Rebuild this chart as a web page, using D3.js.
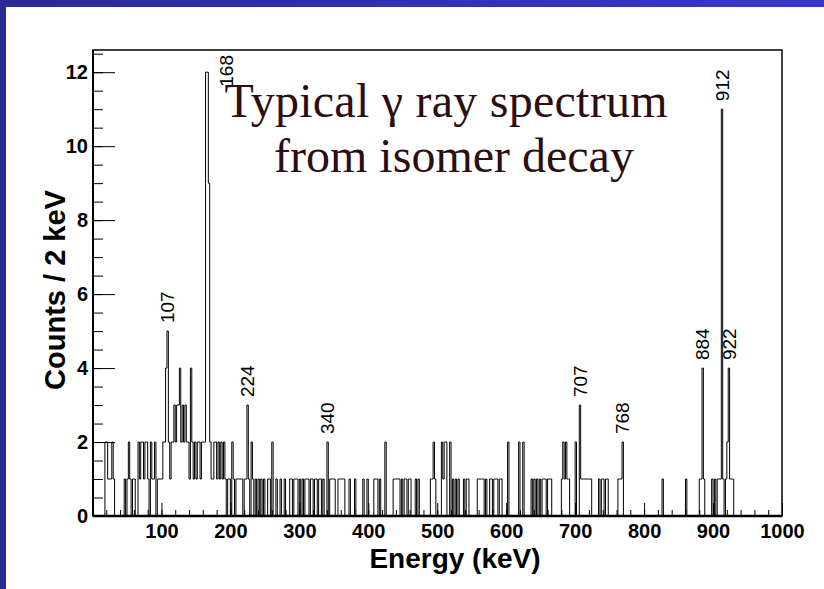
<!DOCTYPE html>
<html>
<head>
<meta charset="utf-8">
<script src="https://cdn.jsdelivr.net/npm/d3@7"></script>
<style>
  html, body { margin: 0; padding: 0; background: #fff; }
  svg { display: block; }
</style>
</head>
<body>
<svg id="chart" width="824" height="589"></svg>
<script>
// ---- spectrum data: [bin lower edge (keV), counts], 2 keV bins ----
const binWidth = 2;
const binsLow = [
  [18,2],[20,2],[22,1],[24,1],[26,1],[28,2],[30,1],
  [46,1],[50,1],[52,2],[54,1],[58,1],[60,1],
  [66,2],[68,1],[70,2],[72,2],[74,1],[76,2],[78,2],
  [80,1],[84,2],[86,1],[88,1],[90,2],[94,1],
  [96,1],[98,1],[100,1],[102,2],[104,2],[106,4],[108,5],
  [110,2],[112,1],[114,2],[116,2],[118,3],[120,2],[122,3],[124,3],[126,4],[128,2],
  [130,3],[132,2],[134,3],[136,2],[138,2],[140,1],[142,4],[144,2],[146,1],[148,2],
  [150,1],[152,2],[154,2],[156,1],[158,2],[160,2],[162,2],
  [164,12],[166,12],[168,9],
  [170,2],[172,1],[174,1],[176,2],[178,2],[180,1],[182,2],[184,1],[186,2],[188,1],
  [190,2],[192,1],[196,1],[198,1],[202,2],[204,1],[208,1],[210,1],[212,1],[214,1],
  [216,1],[220,1],[222,1],[224,3],[226,1],[230,2],[232,1],[236,1]
];
const binsMid = [
  [240,1],[244,1],[248,1],[254,1],[256,1],[260,2],[266,1],[272,1],[278,1],[286,1],[288,1],
  [292,1],[294,1],[296,1],[300,1],[304,1],[308,1],[310,1],[312,1],[316,1],[318,1],
  [322,1],[324,1],[328,1],[330,1],[334,1],[340,2],
  [344,1],[346,1],[348,1],[350,1],[356,1],[358,1],[360,1],[362,1],[364,1],[372,1],[380,1],
  [392,1],[398,1],[408,1],[410,1],[412,1],[416,1],[424,2],
  [436,1],[438,1],[440,1],[442,1],[444,1],[448,1],[452,1],[454,1],[458,1],[460,1],
  [468,1],[472,1],[490,1],[492,1],[494,2],[496,1],
  [506,2],[508,1],[510,2],[512,2],[518,2],[522,1],[526,1],[530,1],
  [538,1],[542,1],[544,1],[558,1],[560,1],[562,1],[564,1],[566,1],[570,1],
  [576,1],[578,1],[582,1],[584,1],[586,1],[590,1],[592,1],
  [602,2],[618,2],[624,2],
  [636,1],[640,1],[644,1],[648,1],[652,1],[654,1],[656,1],[660,1],[662,1],[664,1],
  [680,1],[682,2],[684,1],[686,2],[688,1],[690,1],[700,2],[706,3],
  [708,1],[710,1],[712,1],[714,1],[716,1],[718,1],[720,1],[722,1],
  [734,1],[738,1],[740,1],[744,1],[746,1],
  [762,1],[764,1],[766,1],[768,2]
];
const binsHigh = [
  [826,1],[860,1],[880,1],[882,1],[884,4],[886,1],
  [898,1],[902,1],[906,1],[908,1],[910,1],[912,11],[914,1],
  [918,1],[920,2],[922,4],[924,1],[926,1],[928,1]
];

// labelled gamma lines: label text and the bin that carries it
const peakLabels = ["107","168","224","340","707","768","884","912","922"];
const peakBins   = [108, 166, 224, 340, 706, 768, 884, 912, 922];

const xTickValues = [100,200,300,400,500,600,700,800,900,1000];
const yTickValues = [0,2,4,6,8,10,12];
const titleLines = ["Typical \u03b3 ray spectrum", "from isomer decay"];
const xTitle = "Energy (keV)";
const yTitle = "Counts / 2 keV";

// ---- layout ----
const W = 824, H = 589;
const frame = { left: 93, right: 782, top: 50, bottom: 516 };
const svg = d3.select("#chart");

const x = d3.scaleLinear().domain([0, 1000]).range([92.5, 782]);
const y = d3.scaleLinear().domain([0, 12.6]).range([frame.bottom, frame.top]);

// slide border (blue gradient bars along top and left)
const defs = svg.append("defs");
const grad = defs.append("linearGradient").attr("id", "slideBlue")
  .attr("x1", "0%").attr("y1", "0%").attr("x2", "100%").attr("y2", "0%");
grad.append("stop").attr("offset", "0%").attr("stop-color", "#2b2a92");
grad.append("stop").attr("offset", "100%").attr("stop-color", "#3737cf");
svg.append("rect").attr("x", 0).attr("y", 0).attr("width", W).attr("height", H).attr("fill", "#fff");
svg.append("rect").attr("x", 0).attr("y", 0).attr("width", W).attr("height", 7).attr("fill", "url(#slideBlue)");
svg.append("rect").attr("x", 0).attr("y", 0).attr("width", 6).attr("height", H).attr("fill", "#2c2b96");

// ---- histogram as a step outline ----
const countByBin = new Map([...binsLow, ...binsMid, ...binsHigh]);
const steps = [];
for (let e = 0; e < 1000; e += binWidth) {
  const c = countByBin.get(e) || 0;
  steps.push([e, c], [e + binWidth, c]);
}
svg.append("path")
  .datum(steps)
  .attr("fill", "none")
  .attr("stroke", "#000")
  .attr("stroke-width", 1)
  .attr("d", d3.line().x(d => x(d[0])).y(d => y(d[1])));

// ---- frame ----
svg.append("rect")
  .attr("x", frame.left).attr("y", frame.top)
  .attr("width", frame.right - frame.left).attr("height", frame.bottom - frame.top)
  .attr("fill", "none").attr("stroke", "#000").attr("stroke-width", 1.5);

// ---- axes (ticks pointing into the frame) ----
const tickFont = "'Liberation Sans', Arial, sans-serif";

const xAxisMinor = d3.axisTop(x).tickValues(d3.range(0, 1001, 20)).tickSize(6).tickFormat("");
svg.append("g").attr("transform", `translate(0,${frame.bottom})`).call(xAxisMinor)
  .call(g => g.select(".domain").remove())
  .call(g => g.selectAll("line").attr("stroke", "#000"));
const xAxisMajor = d3.axisTop(x).tickValues(xTickValues).tickSize(13).tickFormat("");
svg.append("g").attr("transform", `translate(0,${frame.bottom})`).call(xAxisMajor)
  .call(g => g.select(".domain").remove())
  .call(g => g.selectAll("line").attr("stroke", "#000"));
const xAxisLabels = d3.axisBottom(x).tickValues(xTickValues).tickSize(0).tickPadding(8)
  .tickFormat(d3.format("d"));
svg.append("g").attr("transform", `translate(0,${frame.bottom})`).call(xAxisLabels)
  .call(g => g.select(".domain").remove())
  .call(g => g.selectAll("text")
    .attr("font-family", tickFont).attr("font-weight", "bold").attr("font-size", 20).attr("fill", "#000"));

const yAxisMinor = d3.axisRight(y).tickValues(d3.range(0, 12.6, 0.5)).tickSize(10).tickFormat("");
svg.append("g").attr("transform", `translate(${frame.left},0)`).call(yAxisMinor)
  .call(g => g.select(".domain").remove())
  .call(g => g.selectAll("line").attr("stroke", "#000"));
const yAxisMajor = d3.axisRight(y).tickValues(yTickValues).tickSize(22).tickFormat("");
svg.append("g").attr("transform", `translate(${frame.left},0)`).call(yAxisMajor)
  .call(g => g.select(".domain").remove())
  .call(g => g.selectAll("line").attr("stroke", "#000"));
const yAxisLabels = d3.axisLeft(y).tickValues(yTickValues).tickSize(0).tickPadding(5)
  .tickFormat(d3.format("d"));
svg.append("g").attr("transform", `translate(${frame.left},0)`).call(yAxisLabels)
  .call(g => g.select(".domain").remove())
  .call(g => g.selectAll("text")
    .attr("font-family", tickFont).attr("font-weight", "bold").attr("font-size", 20).attr("fill", "#000"));

// axis lines drawn heavier than the frame
svg.append("line").attr("x1", frame.left).attr("x2", frame.right)
  .attr("y1", frame.bottom).attr("y2", frame.bottom).attr("stroke", "#000").attr("stroke-width", 2.5);
svg.append("line").attr("x1", frame.left).attr("x2", frame.left)
  .attr("y1", frame.top).attr("y2", frame.bottom).attr("stroke", "#000").attr("stroke-width", 2);

// axis titles
svg.append("text")
  .attr("x", 455).attr("y", 568)
  .attr("text-anchor", "middle")
  .attr("font-family", tickFont).attr("font-weight", "bold").attr("font-size", 28)
  .text(xTitle);
svg.append("text")
  .attr("transform", "translate(65,290) rotate(-90)")
  .attr("text-anchor", "middle")
  .attr("font-family", tickFont).attr("font-weight", "bold").attr("font-size", 29)
  .text(yTitle);

// ---- peak energy labels (rotated, above each line) ----
const labelSize = 19;
peakLabels.forEach((txt, i) => {
  const e = peakBins[i];
  const c = countByBin.get(e) || 0;
  const px = x(e + binWidth / 2);
  const top = y(c) - 8;
  const needed = txt.length * labelSize * 0.56;
  if (top - needed < frame.top) {
    // no room above the line: set the label beside it, under the frame top
    svg.append("text")
      .attr("transform", `translate(${px + 19},${frame.top + 5}) rotate(-90)`)
      .attr("text-anchor", "end").attr("dy", "0.35em")
      .attr("font-family", tickFont).attr("font-size", labelSize)
      .text(txt);
  } else {
    svg.append("text")
      .attr("transform", `translate(${px},${top}) rotate(-90)`)
      .attr("text-anchor", "start").attr("dy", "0.35em")
      .attr("font-family", tickFont).attr("font-size", labelSize)
      .text(txt);
  }
});

// ---- title ----
const title = svg.append("text")
  .attr("font-family", "'Liberation Serif', 'Times New Roman', serif")
  .attr("font-size", 48)
  .attr("fill", "#2c0e12")
  .attr("text-anchor", "middle");
title.append("tspan").attr("x", 446).attr("y", 117)
  .attr("textLength", 443).attr("lengthAdjust", "spacing")
  .text(titleLines[0]);
title.append("tspan").attr("x", 454).attr("y", 172).text(titleLines[1]);
</script>
</body>
</html>
